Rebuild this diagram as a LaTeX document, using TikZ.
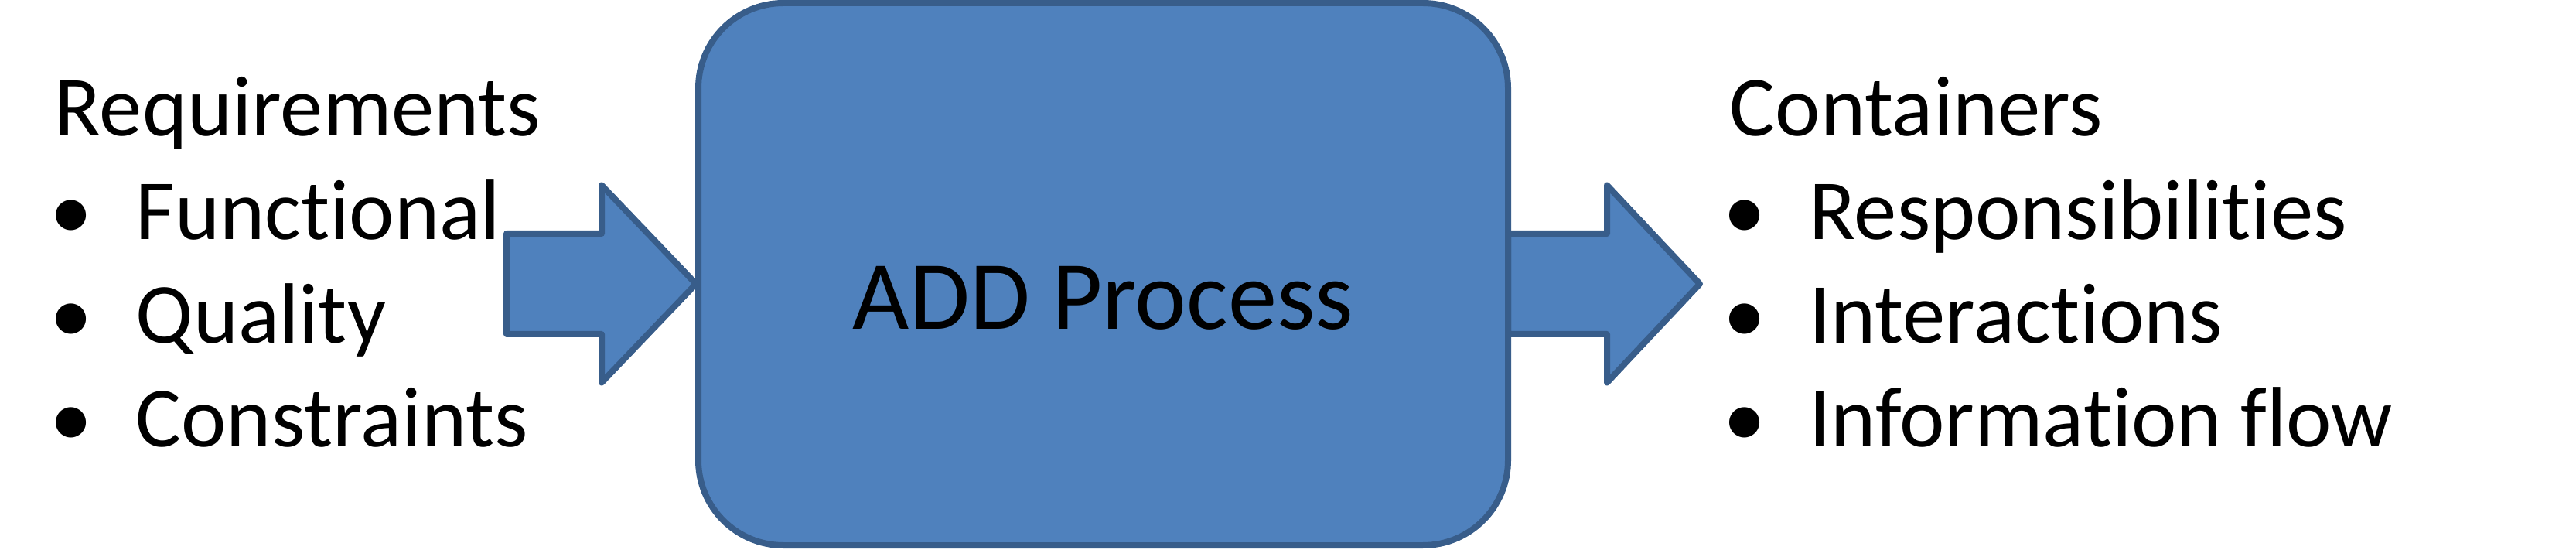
\documentclass[tikz,border=0pt]{standalone}
\usepackage{fontspec}
\setmainfont[Ligatures={NoCommon}]{Carlito}
\usetikzlibrary{positioning}

\definecolor{addfill}{HTML}{4F81BD}
\definecolor{addline}{HTML}{385D8A}
\newcommand{\itembullet}{\llap{\textbullet\hspace{0.56cm}}}

\tikzset{
  listtext/.style={anchor=base west, inner sep=0pt, font=\fontsize{31.5}{37}\selectfont},
  procbox/.style={rectangle, rounded corners=1.1cm, draw=addline, fill=addfill,
    line width=0.08cm, minimum width=10.47cm, minimum height=7.01cm},
  blockarrow/.style={draw=addline, fill=addfill, line width=0.08cm, line join=round}
}

\begin{document}
\begin{tikzpicture}
\useasboundingbox (0,0) rectangle (33.31,7.10);

% Input arrow into the process
\draw[blockarrow] (9.00,3.43) -- (7.78,4.705) -- (7.78,4.08) -- (6.55,4.08)
  -- (6.55,2.78) -- (7.78,2.78) -- (7.78,2.155) -- cycle;

% Output arrow out of the process
\draw[blockarrow] (19.50,4.08) -- (20.78,4.08) -- (20.78,4.705) -- (21.98,3.43)
  -- (20.78,2.155) -- (20.78,2.78) -- (19.50,2.78) -- cycle;

% Process box
\node[procbox] (add) at (14.265,3.555) {};
\node[font=\fontsize{36}{42}\selectfont, anchor=base] (addlabel) at (14.265,2.84) {ADD Process};

% Left: inputs
\node[listtext] (req) at (0.70,5.34) {Requirements};
\node[listtext] (func) at (1.75,4.00) {\itembullet Functional};
\node[listtext] (qual) at (1.75,2.66) {\itembullet Quality};
\node[listtext] (cons) at (1.75,1.32) {\itembullet Constraints};

% Right: outputs
\node[listtext] (cont) at (22.36,5.34) {Containers};
\node[listtext] (resp) at (23.39,4.00) {\itembullet Responsibilities};
\node[listtext] (inter) at (23.39,2.66) {\itembullet Interactions};
\node[listtext] (info) at (23.39,1.32) {\itembullet Information flow};

\end{tikzpicture}
\end{document}
